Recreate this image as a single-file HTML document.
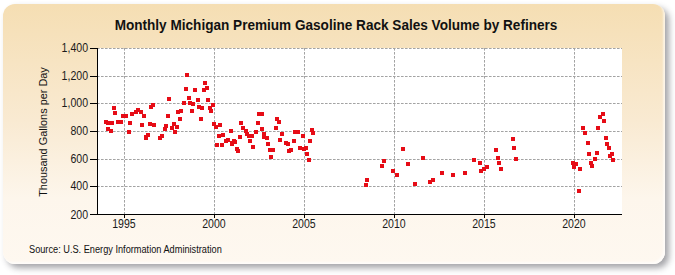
<!DOCTYPE html>
<html><head><meta charset="utf-8"><style>
html,body{margin:0;padding:0;width:675px;height:275px;overflow:hidden;background:#fff;}
body{position:relative;font-family:"Liberation Sans",sans-serif;}
.panel{position:absolute;left:3px;top:4px;width:662px;height:260px;border-radius:12px;
background:linear-gradient(to bottom,#f5deb3 0%,#f9ead2 45%,#fdf6ec 75%,#fef8f0 100%);
box-shadow:inset -2px -2px 2px rgba(255,255,255,0.6),4px 4px 6px rgba(40,40,50,0.42);}
.title{position:absolute;left:0;width:672px;top:17px;text-align:center;font-weight:bold;font-size:14px;color:#111;white-space:nowrap;transform:scaleX(0.97);}
.yt{position:absolute;left:43px;top:131.6px;width:0;height:0;}
.yt span{position:absolute;transform:translate(-50%,-50%) rotate(-90deg);font-size:10.9px;white-space:nowrap;color:#111;}
.yl{position:absolute;right:587px;font-size:12px;color:#1a1a1a;transform-origin:right center;transform:scaleX(0.88);white-space:nowrap;line-height:14px;}
.xl{position:absolute;top:217px;width:40px;text-align:center;font-size:12px;color:#1a1a1a;transform:scaleX(0.88);line-height:14px;}
.src{position:absolute;left:29.3px;top:244px;font-size:10px;color:#111;white-space:nowrap;transform-origin:left center;transform:scaleX(0.92);}
svg{position:absolute;left:0;top:0;}
</style></head><body>
<div class="panel"></div>
<div class="title">Monthly Michigan Premium Gasoline Rack Sales Volume by Refiners</div>
<div class="yt"><span>Thousand Gallons per Day</span></div>
<div class="yl" style="top:41px">1,400</div><div class="yl" style="top:69px">1,200</div><div class="yl" style="top:96px">1,000</div><div class="yl" style="top:124px">800</div><div class="yl" style="top:152px">600</div><div class="yl" style="top:179px">400</div><div class="yl" style="top:208px">200</div>
<div class="xl" style="left:104.3px">1995</div><div class="xl" style="left:194.3px">2000</div><div class="xl" style="left:284.3px">2005</div><div class="xl" style="left:374.3px">2010</div><div class="xl" style="left:464.3px">2015</div><div class="xl" style="left:554.3px">2020</div>
<div class="src">Source: U.S. Energy Information Administration</div>
<svg width="675" height="275" viewBox="0 0 675 275">
<rect x="97" y="48" width="525" height="166" fill="#fff"/>
<g stroke="#a3a3a3" stroke-width="1" stroke-dasharray="2.6,1.4" fill="none"><line x1="97" y1="48.5" x2="622" y2="48.5"/><line x1="97" y1="76.5" x2="622" y2="76.5"/><line x1="97" y1="103.5" x2="622" y2="103.5"/><line x1="97" y1="131.5" x2="622" y2="131.5"/><line x1="97" y1="159.5" x2="622" y2="159.5"/><line x1="97" y1="186.5" x2="622" y2="186.5"/><line x1="124.5" y1="48" x2="124.5" y2="214"/><line x1="214.5" y1="48" x2="214.5" y2="214"/><line x1="304.5" y1="48" x2="304.5" y2="214"/><line x1="394.5" y1="48" x2="394.5" y2="214"/><line x1="484.5" y1="48" x2="484.5" y2="214"/><line x1="574.5" y1="48" x2="574.5" y2="214"/></g>
<g stroke="#000" stroke-width="1" fill="none"><line x1="90" y1="48.5" x2="97" y2="48.5"/><line x1="90" y1="76.5" x2="97" y2="76.5"/><line x1="90" y1="103.5" x2="97" y2="103.5"/><line x1="90" y1="131.5" x2="97" y2="131.5"/><line x1="90" y1="159.5" x2="97" y2="159.5"/><line x1="90" y1="186.5" x2="97" y2="186.5"/><line x1="90" y1="214.5" x2="97" y2="214.5"/><line x1="124.5" y1="214" x2="124.5" y2="218"/><line x1="214.5" y1="214" x2="214.5" y2="218"/><line x1="304.5" y1="214" x2="304.5" y2="218"/><line x1="394.5" y1="214" x2="394.5" y2="218"/><line x1="484.5" y1="214" x2="484.5" y2="218"/><line x1="574.5" y1="214" x2="574.5" y2="218"/><line x1="97.5" y1="48" x2="97.5" y2="215"/><line x1="90" y1="214.5" x2="622" y2="214.5"/></g>
<g fill="#e60c16"><rect x="104" y="120" width="4" height="4"/><rect x="106" y="121" width="4" height="4"/><rect x="110" y="121" width="4" height="4"/><rect x="116" y="120" width="4" height="4"/><rect x="119" y="120" width="4" height="4"/><rect x="128" y="121" width="4" height="4"/><rect x="140" y="123" width="4" height="4"/><rect x="148" y="122" width="4" height="4"/><rect x="152" y="123" width="4" height="4"/><rect x="106" y="127" width="4" height="4"/><rect x="109" y="129" width="4" height="4"/><rect x="127" y="130" width="4" height="4"/><rect x="146" y="133" width="4" height="4"/><rect x="144" y="135" width="4" height="4"/><rect x="144" y="136" width="4" height="4"/><rect x="158" y="136" width="4" height="4"/><rect x="160" y="134" width="4" height="4"/><rect x="112" y="106" width="4" height="4"/><rect x="113" y="111" width="4" height="4"/><rect x="121" y="114" width="4" height="4"/><rect x="124" y="114" width="4" height="4"/><rect x="130" y="112" width="4" height="4"/><rect x="134" y="110" width="4" height="4"/><rect x="136" y="108" width="4" height="4"/><rect x="139" y="110" width="4" height="4"/><rect x="142" y="114" width="4" height="4"/><rect x="149" y="105" width="4" height="4"/><rect x="151" y="103" width="4" height="4"/><rect x="167" y="97" width="4" height="4"/><rect x="166" y="114" width="4" height="4"/><rect x="187" y="96" width="4" height="4"/><rect x="196" y="98" width="4" height="4"/><rect x="206" y="98" width="4" height="4"/><rect x="182" y="101" width="4" height="4"/><rect x="188" y="101" width="4" height="4"/><rect x="191" y="102" width="4" height="4"/><rect x="211" y="103" width="4" height="4"/><rect x="197" y="105" width="4" height="4"/><rect x="200" y="106" width="4" height="4"/><rect x="208" y="106" width="4" height="4"/><rect x="209" y="109" width="4" height="4"/><rect x="176" y="110" width="4" height="4"/><rect x="179" y="109" width="4" height="4"/><rect x="190" y="109" width="4" height="4"/><rect x="178" y="117" width="4" height="4"/><rect x="199" y="117" width="4" height="4"/><rect x="185" y="73" width="4" height="4"/><rect x="184" y="87" width="4" height="4"/><rect x="193" y="88" width="4" height="4"/><rect x="203" y="81" width="4" height="4"/><rect x="205" y="86" width="4" height="4"/><rect x="202" y="88" width="4" height="4"/><rect x="164" y="124" width="4" height="4"/><rect x="163" y="127" width="4" height="4"/><rect x="172" y="122" width="4" height="4"/><rect x="175" y="125" width="4" height="4"/><rect x="170" y="126" width="4" height="4"/><rect x="173" y="130" width="4" height="4"/><rect x="212" y="122" width="4" height="4"/><rect x="214" y="125" width="4" height="4"/><rect x="218" y="123" width="4" height="4"/><rect x="229" y="129" width="4" height="4"/><rect x="239" y="121" width="4" height="4"/><rect x="241" y="126" width="4" height="4"/><rect x="244" y="129" width="4" height="4"/><rect x="245" y="132" width="4" height="4"/><rect x="247" y="134" width="4" height="4"/><rect x="250" y="134" width="4" height="4"/><rect x="248" y="139" width="4" height="4"/><rect x="254" y="130" width="4" height="4"/><rect x="256" y="121" width="4" height="4"/><rect x="260" y="127" width="4" height="4"/><rect x="262" y="132" width="4" height="4"/><rect x="262" y="135" width="4" height="4"/><rect x="217" y="134" width="4" height="4"/><rect x="221" y="133" width="4" height="4"/><rect x="238" y="135" width="4" height="4"/><rect x="224" y="139" width="4" height="4"/><rect x="226" y="138" width="4" height="4"/><rect x="232" y="139" width="4" height="4"/><rect x="230" y="141" width="4" height="4"/><rect x="215" y="143" width="4" height="4"/><rect x="220" y="143" width="4" height="4"/><rect x="230" y="142" width="4" height="4"/><rect x="233" y="140" width="4" height="4"/><rect x="251" y="145" width="4" height="4"/><rect x="235" y="147" width="4" height="4"/><rect x="236" y="149" width="4" height="4"/><rect x="257" y="112" width="4" height="4"/><rect x="260" y="112" width="4" height="4"/><rect x="275" y="117" width="4" height="4"/><rect x="277" y="120" width="4" height="4"/><rect x="274" y="126" width="4" height="4"/><rect x="265" y="136" width="4" height="4"/><rect x="280" y="132" width="4" height="4"/><rect x="278" y="138" width="4" height="4"/><rect x="266" y="142" width="4" height="4"/><rect x="284" y="141" width="4" height="4"/><rect x="286" y="142" width="4" height="4"/><rect x="293" y="130" width="4" height="4"/><rect x="296" y="130" width="4" height="4"/><rect x="301" y="134" width="4" height="4"/><rect x="292" y="139" width="4" height="4"/><rect x="310" y="128" width="4" height="4"/><rect x="311" y="131" width="4" height="4"/><rect x="308" y="139" width="4" height="4"/><rect x="268" y="148" width="4" height="4"/><rect x="271" y="148" width="4" height="4"/><rect x="269" y="155" width="4" height="4"/><rect x="287" y="149" width="4" height="4"/><rect x="289" y="148" width="4" height="4"/><rect x="298" y="146" width="4" height="4"/><rect x="302" y="147" width="4" height="4"/><rect x="304" y="146" width="4" height="4"/><rect x="305" y="152" width="4" height="4"/><rect x="307" y="158" width="4" height="4"/><rect x="364" y="183" width="4" height="4"/><rect x="365" y="178" width="4" height="4"/><rect x="380" y="164" width="4" height="4"/><rect x="382" y="159" width="4" height="4"/><rect x="391" y="169" width="4" height="4"/><rect x="395" y="173" width="4" height="4"/><rect x="401" y="147" width="4" height="4"/><rect x="406" y="162" width="4" height="4"/><rect x="413" y="182" width="4" height="4"/><rect x="421" y="156" width="4" height="4"/><rect x="428" y="180" width="4" height="4"/><rect x="431" y="178" width="4" height="4"/><rect x="440" y="171" width="4" height="4"/><rect x="451" y="173" width="4" height="4"/><rect x="463" y="171" width="4" height="4"/><rect x="472" y="158" width="4" height="4"/><rect x="478" y="161" width="4" height="4"/><rect x="479" y="169" width="4" height="4"/><rect x="482" y="167" width="4" height="4"/><rect x="485" y="165" width="4" height="4"/><rect x="494" y="148" width="4" height="4"/><rect x="496" y="156" width="4" height="4"/><rect x="497" y="161" width="4" height="4"/><rect x="499" y="167" width="4" height="4"/><rect x="511" y="137" width="4" height="4"/><rect x="512" y="146" width="4" height="4"/><rect x="514" y="157" width="4" height="4"/><rect x="571" y="161" width="4" height="4"/><rect x="574" y="162" width="4" height="4"/><rect x="572" y="165" width="4" height="4"/><rect x="577" y="189" width="4" height="4"/><rect x="578" y="167" width="4" height="4"/><rect x="581" y="126" width="4" height="4"/><rect x="583" y="131" width="4" height="4"/><rect x="586" y="141" width="4" height="4"/><rect x="587" y="152" width="4" height="4"/><rect x="589" y="161" width="4" height="4"/><rect x="590" y="164" width="4" height="4"/><rect x="593" y="157" width="4" height="4"/><rect x="595" y="151" width="4" height="4"/><rect x="596" y="126" width="4" height="4"/><rect x="598" y="115" width="4" height="4"/><rect x="601" y="112" width="4" height="4"/><rect x="602" y="119" width="4" height="4"/><rect x="604" y="136" width="4" height="4"/><rect x="605" y="142" width="4" height="4"/><rect x="607" y="146" width="4" height="4"/><rect x="608" y="154" width="4" height="4"/><rect x="610" y="152" width="4" height="4"/><rect x="611" y="158" width="4" height="4"/></g>
</svg>
</body></html>
